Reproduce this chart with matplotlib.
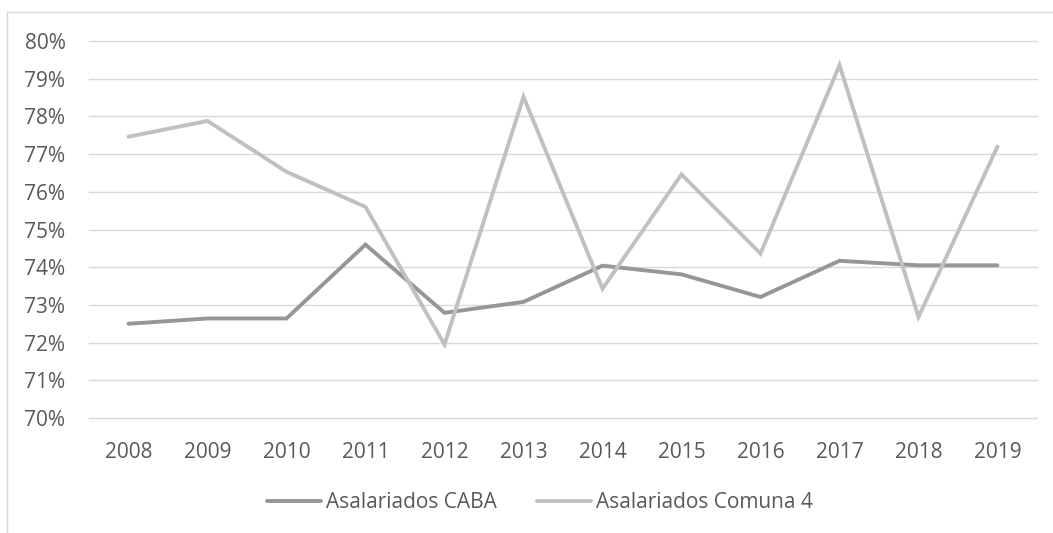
import matplotlib.pyplot as plt
from matplotlib.lines import Line2D
from matplotlib.ticker import FuncFormatter

years = ["2008", "2009", "2010", "2011", "2012", "2013",
         "2014", "2015", "2016", "2017", "2018", "2019"]
caba = [72.50, 72.64, 72.64, 74.60, 72.79, 73.08,
        74.04, 73.81, 73.21, 74.17, 74.05, 74.05]
comuna4 = [77.46, 77.88, 76.53, 75.60, 71.95, 78.52,
           73.43, 76.46, 74.36, 79.36, 72.68, 77.20]

plt.rcParams['font.family'] = ['Open Sans', 'DejaVu Sans']
text_color = "#595959"
grid_color = "#d9d9d9"

fig = plt.figure(figsize=(10.53, 5.33), dpi=100)
ax = fig.add_axes([89 / 1053, 1 - 418 / 533, (1037 - 89) / 1053, (418 - 41) / 533])

x = range(len(years))
ax.plot(x, caba, color="#969696", lw=2.8, solid_capstyle="round",
        solid_joinstyle="miter", label="Asalariados CABA", zorder=3)
ax.plot(x, comuna4, color="#c0c0c0", lw=2.8, solid_capstyle="round",
        solid_joinstyle="miter", label="Asalariados Comuna 4", zorder=3)

ax.set_xlim(-0.5, len(years) - 0.5)
ax.set_ylim(70, 80)
ax.set_yticks(range(70, 81))
ax.yaxis.set_major_formatter(FuncFormatter(lambda v, p: f"{v:.0f}%"))
ax.set_xticks(list(x))
ax.set_xticklabels(years)
ax.grid(axis="y", color=grid_color, lw=1.0)
for g in ax.get_ygridlines():
    g.set_clip_on(False)
ax.set_axisbelow(True)
for s in ax.spines.values():
    s.set_visible(False)
ax.tick_params(length=0, labelsize=15, colors=text_color)
ax.tick_params(axis="y", pad=17)
ax.tick_params(axis="x", pad=17)

leg = fig.legend(loc="center", bbox_to_anchor=(540 / 1053, 1 - 503 / 533),
                 ncol=2, frameon=False, fontsize=15, handlelength=2.6,
                 handletextpad=0.25, columnspacing=1.9)
for t in leg.get_texts():
    t.set_color(text_color)

# chart border (left and top edges visible in the crop)
fig.add_artist(Line2D([7 / 1053, 7 / 1053], [0, 1 - 12 / 533], color=grid_color, lw=1.0))
fig.add_artist(Line2D([7 / 1053, 1], [1 - 12 / 533, 1 - 12 / 533], color=grid_color, lw=1.0))

fig.savefig("out.png", dpi=100)
